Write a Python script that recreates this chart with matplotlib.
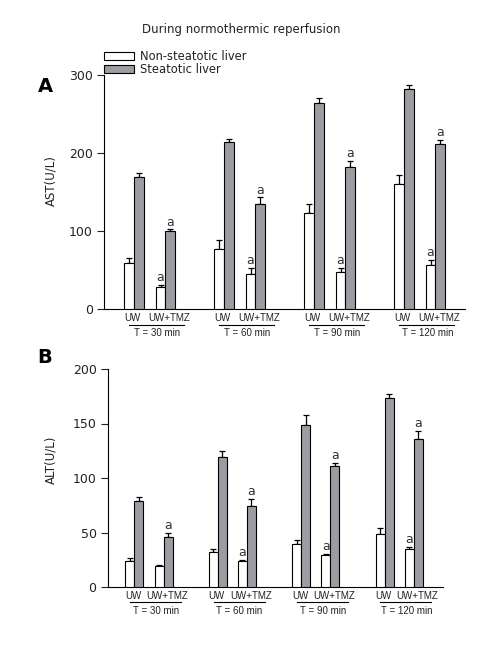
import matplotlib
matplotlib.use("Agg")
import matplotlib.pyplot as plt
import matplotlib.transforms as mtrans
from matplotlib.patches import Patch
import numpy as np

plt.rcParams['font.family'] = ['DejaVu Sans']

time_labels = ["T = 30 min", "T = 60 min", "T = 90 min", "T = 120 min"]
treat_labels = ["UW", "UW+TMZ"]
series = ["Non-steatotic liver", "Steatotic liver"]

# AST values (U/L): per time point
ast_non_uw = [59, 77, 123, 160]
ast_non_uw_err = [7, 12, 11, 12]
ast_non_tmz = [28, 45, 47, 57]
ast_non_tmz_err = [3, 8, 6, 6]
ast_st_uw = [169, 214, 264, 282]
ast_st_uw_err = [5, 4, 6, 5]
ast_st_tmz = [100, 135, 182, 212]
ast_st_tmz_err = [2, 8, 8, 5]
ast_sig_non = [True, True, True, True]
ast_sig_st = [True, True, True, True]

# ALT values (U/L)
alt_non_uw = [23.5, 32, 39.5, 49]
alt_non_uw_err = [3, 2.5, 4, 5.5]
alt_non_tmz = [19, 23.5, 29, 35]
alt_non_tmz_err = [1.2, 1.5, 1.2, 1.4]
alt_st_uw = [78.5, 119, 149, 173]
alt_st_uw_err = [4, 5.5, 8.5, 4]
alt_st_tmz = [46, 74, 111, 135.5]
alt_st_tmz_err = [3.5, 7, 3, 8]
alt_sig_non = [False, True, True, True]
alt_sig_st = [True, True, True, True]

W, H = 500, 646
fig = plt.figure(figsize=(W / 100, H / 100), dpi=100)

WHITE = 'white'
GRAY = '#9c9ca2'
FS = 8
off = 0.35
SMALL = dict(fontsize=7, family=['Liberation Sans', 'DejaVu Sans'], color='#222222')


def make_panel(rect, xlim, ylim, yticks, ylabel, letter, letter_xy, ylabel_xy,
               non_uw, non_uw_e, non_tmz, non_tmz_e, st_uw, st_uw_e, st_tmz, st_tmz_e,
               sig_non, sig_st, bw, line_px, text_px):
    l, r, b, t = rect
    ax = fig.add_axes([l / W, 1 - b / H, (r - l) / W, (b - t) / H])
    g = np.arange(len(time_labels))
    kw = dict(edgecolor='black', linewidth=0.8, zorder=3)
    ekw = dict(elinewidth=0.9, capthick=0.9, ecolor='black')
    for pos, vals, errs, col, shift in [
        (g, non_uw, non_uw_e, WHITE, -bw / 2),
        (g, st_uw, st_uw_e, GRAY, bw / 2),
        (g + off, non_tmz, non_tmz_e, WHITE, -bw / 2),
        (g + off, st_tmz, st_tmz_e, GRAY, bw / 2),
    ]:
        x = pos + shift
        ax.bar(x, vals, width=bw, color=col, **kw)
        ax.errorbar(x, vals, yerr=[np.zeros(len(vals)), errs], fmt='none',
                    capsize=2.5, zorder=2, **ekw)
    span = ylim[1] - ylim[0]
    for i in range(len(g)):
        if sig_non[i]:
            ax.text(g[i] + off - bw / 2, non_tmz[i] + non_tmz_e[i] + span * 0.004, 'a',
                    ha='center', va='bottom', fontsize=9, color='#333333')
        if sig_st[i]:
            ax.text(g[i] + off + bw / 2, st_tmz[i] + st_tmz_e[i] + span * 0.004, 'a',
                    ha='center', va='bottom', fontsize=9, color='#333333')
    ax.set_xlim(*xlim)
    ax.set_ylim(*ylim)
    ax.set_yticks(yticks)
    ax.tick_params(axis='y', direction='out', length=5, width=0.8, labelsize=FS + 1, pad=3,
                   colors='#222222')
    ax.set_xticks(np.concatenate([g - 0.015, g + off + 0.045]))
    ax.set_xticklabels([treat_labels[0]] * len(g) + [treat_labels[1]] * len(g), **SMALL)
    ax.tick_params(axis='x', length=0, pad=3)
    for s in ['top', 'right']:
        ax.spines[s].set_visible(False)
    for s in ['left', 'bottom']:
        ax.spines[s].set_linewidth(0.8)
    ax.set_facecolor('none')
    # group underline and time labels
    trans = mtrans.blended_transform_factory(ax.transData, ax.transAxes)
    hpx = b - t
    for i, lab in enumerate(time_labels):
        ax.plot([g[i] - 0.05, g[i] + 0.56], [-line_px / hpx] * 2, transform=trans,
                color='black', lw=0.8, clip_on=False)
        ax.text(g[i] + 0.26, -text_px / hpx, lab, transform=trans, ha='center',
                va='center', **SMALL)
    ax.set_ylabel(ylabel, fontsize=FS + 0.5, color='#222222')
    ax.yaxis.set_label_coords(*ylabel_xy)
    fig.text(letter_xy[0] / W, 1 - letter_xy[1] / H, letter, fontsize=14, fontweight='bold',
             ha='center', va='center')
    return ax


axA = make_panel((104, 465, 309, 75), (-0.333, 3.678), (0, 300), [0, 100, 200, 300],
                 'AST(U/L)', 'A', (45, 87), (-0.130, 0.547),
                 ast_non_uw, ast_non_uw_err, ast_non_tmz, ast_non_tmz_err,
                 ast_st_uw, ast_st_uw_err, ast_st_tmz, ast_st_tmz_err,
                 ast_sig_non, ast_sig_st, 0.11, 16, 24)
axB = make_panel((107.7, 443, 587, 369), (-0.32, 3.70), (0, 200), [0, 50, 100, 150, 200],
                 'ALT(U/L)', 'B', (45, 357), (-0.150, 0.583),
                 alt_non_uw, alt_non_uw_err, alt_non_tmz, alt_non_tmz_err,
                 alt_st_uw, alt_st_uw_err, alt_st_tmz, alt_st_tmz_err,
                 alt_sig_non, alt_sig_st, 0.108, 15, 24)

fig.text(241 / W, 1 - 29 / H, 'During normothermic reperfusion', ha='center', va='center',
         fontsize=FS + 0.5, color='#222222')

handles = [Patch(facecolor=WHITE, edgecolor='black', linewidth=0.8),
           Patch(facecolor=GRAY, edgecolor='black', linewidth=0.8)]
fig.legend(handles, series, loc='upper left', bbox_to_anchor=(104 / W, 1 - 50 / H),
           frameon=False, fontsize=8.3, handlelength=2.6, handleheight=0.6,
           labelspacing=0.0, handletextpad=0.5, borderpad=0, borderaxespad=0,
           labelcolor='#222222')

fig.savefig('out.png', dpi=100)
